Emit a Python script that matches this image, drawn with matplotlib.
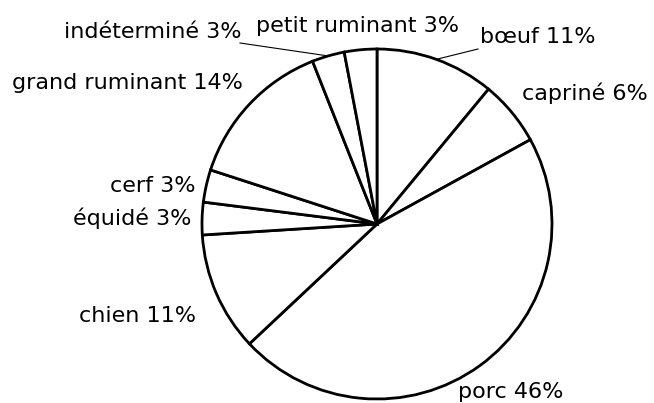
import numpy as np
import matplotlib
matplotlib.use("Agg")
import matplotlib.pyplot as plt

# Composition of the faunal remains (share of fragments per taxon)
categories = ["bœuf", "capriné", "porc", "chien", "équidé", "cerf",
              "grand ruminant", "indéterminé", "petit ruminant"]
shares = [11, 6, 46, 11, 3, 3, 14, 3, 3]

W, H = 654, 403
fig = plt.figure(figsize=(W / 100, H / 100), dpi=100)
ax = fig.add_axes([0, 0, 1, 1])

cx, cy, r = 377, H - 224, 175
wedges, _ = ax.pie(shares, startangle=90, counterclock=False,
                   center=(cx, cy), radius=r, frame=True,
                   wedgeprops=dict(facecolor="white", edgecolor="black",
                                   linewidth=2.0))
ax.set_xlim(0, W)
ax.set_ylim(0, H)
ax.set_aspect("equal")
ax.axis("off")

# label anchors: (x, baseline y, horizontal alignment), y from the top edge
label_pos = {
    "bœuf": (480, 43, "left"),
    "capriné": (522, 100, "left"),
    "porc": (458, 398, "left"),
    "chien": (196, 322, "right"),
    "équidé": (191, 225, "right"),
    "cerf": (196, 192, "right"),
    "grand ruminant": (243, 89, "right"),
    "indéterminé": (241, 38, "right"),
    "petit ruminant": (357, 32, "center"),
}
# thin leader lines for the small top slices: end point of the line
leaders = {"bœuf": (478, 49), "indéterminé": (240, 43)}

for cat, val, w in zip(categories, shares, wedges):
    x, y, ha = label_pos[cat]
    ax.text(x, H - y, f"{cat} {val}%", ha=ha, va="baseline",
            fontsize=16, family="DejaVu Sans", color="black")
    if cat in leaders:
        mid = np.deg2rad((w.theta1 + w.theta2) / 2)
        sx, sy = cx + r * np.cos(mid), cy + r * np.sin(mid)
        ex, ey = leaders[cat]
        ax.plot([sx, ex], [sy, H - ey], color="black", linewidth=0.8)

fig.savefig("out.png", dpi=100, facecolor="white")
